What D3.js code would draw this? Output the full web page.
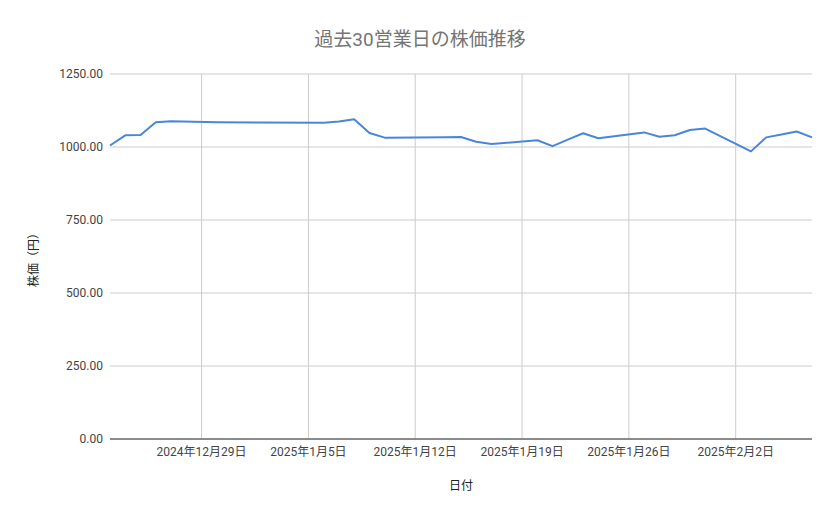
<!DOCTYPE html><html><head><meta charset="utf-8"><script src="https://cdn.jsdelivr.net/npm/d3@7"></script>
<style>body{margin:0;background:#fff}text{font-family:Roboto,"Noto Sans CJK JP",sans-serif}</style></head><body><svg id="c" width="839" height="519"></svg><script>
const dates=["2024-12-23","2024-12-24","2024-12-25","2024-12-26","2024-12-27","2024-12-30","2025-01-06","2025-01-07","2025-01-08","2025-01-09","2025-01-10","2025-01-14","2025-01-15","2025-01-16","2025-01-17","2025-01-20","2025-01-21","2025-01-22","2025-01-23","2025-01-24","2025-01-27","2025-01-28","2025-01-29","2025-01-30","2025-01-31","2025-02-03","2025-02-04","2025-02-05","2025-02-06","2025-02-07"];
const prices=[1005,1040,1041,1085,1088,1085,1083,1087,1095,1048,1032,1033,1034,1018,1010,1023,1003,1025,1047,1030,1050,1035,1040,1058,1063,985,1033,1043,1053,1033];
const yTicks=[0,250,500,750,1000,1250];
const xTicks=["2024-12-29","2025-01-05","2025-01-12","2025-01-19","2025-01-26","2025-02-02"];
const pd=d3.utcParse("%Y-%m-%d");
const svg=d3.select("#c");
const L=110,R=812,T=74,B=439;
const x=d3.scaleUtc().domain([pd(dates[0]),pd(dates[dates.length-1])]).range([L,R]);
const y=d3.scaleLinear().domain([0,1250]).range([B,T]);
svg.append("g").selectAll("line").data(yTicks).join("line").attr("x1",L).attr("x2",R).attr("y1",d=>y(d)).attr("y2",d=>y(d)).attr("stroke","#ccc");
svg.append("g").selectAll("line").data(xTicks).join("line").attr("x1",d=>x(pd(d))).attr("x2",d=>x(pd(d))).attr("y1",T).attr("y2",B).attr("stroke","#ccc");
svg.append("g").selectAll("text").data(yTicks).join("text").attr("x",L-7).attr("y",d=>y(d)+4).attr("text-anchor","end").attr("font-size",12).attr("fill","#444").text(d=>d3.format(".2f")(d));
const fmt=d=>{const t=pd(d);return t.getUTCFullYear()+"年"+(t.getUTCMonth()+1)+"月"+t.getUTCDate()+"日";};
svg.append("g").selectAll("text").data(xTicks).join("text").attr("x",d=>x(pd(d))).attr("y",456).attr("text-anchor","middle").attr("font-size",12).attr("fill","#444").text(fmt);
svg.append("line").attr("x1",L).attr("x2",R).attr("y1",B).attr("y2",B).attr("stroke","#333");
svg.append("path").datum(dates.map((d,i)=>[pd(d),prices[i]])).attr("fill","none").attr("stroke","#4a86d8").attr("stroke-width",2).attr("stroke-linejoin","round")
 .attr("d",d3.line().x(d=>x(d[0])).y(d=>y(d[1])));
svg.append("text").attr("x",420).attr("y",46).attr("text-anchor","middle").attr("font-size",19).attr("fill","#757575").text("過去30営業日の株価推移");
svg.append("text").attr("x",461).attr("y",490).attr("text-anchor","middle").attr("font-size",12).attr("fill","#222").text("日付");
svg.append("text").attr("transform","translate(38,257) rotate(-90)").attr("text-anchor","middle").attr("font-size",12).attr("fill","#222").text("株価（円）");
</script></body></html>
